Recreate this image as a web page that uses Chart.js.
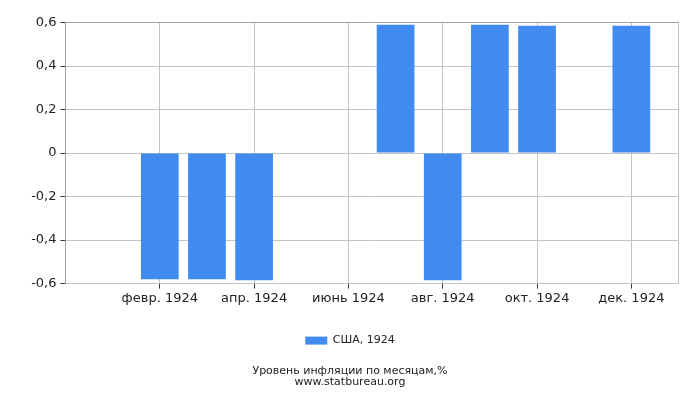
<!DOCTYPE html>
<html>
<head>
<meta charset="utf-8">
<script src="https://cdn.jsdelivr.net/npm/chart.js@4"></script>
<style>
html,body{margin:0;padding:0;background:#fff;}
#wrap{width:700px;height:400px;}
</style>
</head>
<body>
<div id="wrap"><canvas id="c" width="700" height="400"></canvas></div>
<script>
const months = ['янв. 1924','февр. 1924','март 1924','апр. 1924','май 1924','июнь 1924','июль 1924','авг. 1924','сент. 1924','окт. 1924','нояб. 1924','дек. 1924'];
const inflation = [0, -0.58, -0.58, -0.585, 0, 0, 0.59, -0.585, 0.59, 0.585, 0, 0.585];
const seriesName = 'США, 1924';
const labeledMonths = [1, 3, 5, 7, 9, 11];
const yTicks = [-0.6, -0.4, -0.2, 0, 0.2, 0.4, 0.6];
const titleLines = ['Уровень инфляции по месяцам,%', 'www.statbureau.org'];

const points = inflation.map((v, i) => ({x: i, y: v}));
const FONT = 'DejaVu Sans';

new Chart(document.getElementById('c'), {
  type: 'bar',
  data: {
    datasets: [{
      label: seriesName,
      data: points,
      backgroundColor: '#418bf0',
      borderWidth: 0,
      borderSkipped: false,
      barPercentage: 1,
      categoryPercentage: 0.8
    }]
  },
  options: {
    responsive: false,
    animation: false,
    devicePixelRatio: 1,
    layout: {padding: {top: 22.5, right: 0, left: 0, bottom: 0}},
    plugins: {
      tooltip: {enabled: false},
      legend: {
        position: 'bottom',
        labels: {
          font: {family: FONT, size: 11},
          color: '#222',
          boxWidth: 22,
          boxHeight: 8,
          padding: 10
        }
      },
      title: {
        display: true,
        position: 'bottom',
        text: titleLines,
        color: '#222',
        font: {family: FONT, size: 11, weight: 'normal', lineHeight: 0.95},
        padding: {top: 10, bottom: 13}
      }
    },
    scales: {
      x: {
        type: 'linear',
        min: -1,
        max: 12,
        offset: false,
        afterBuildTicks: (s) => {
          s.ticks = labeledMonths.concat([12]).map(v => ({value: v}));
        },
        afterFit: (s) => { s.height = 41.5; },
        ticks: {
          autoSkip: false,
          maxRotation: 0,
          font: {family: FONT, size: 13},
          color: '#222',
          padding: 2,
          callback: (v) => (months[v] !== undefined && labeledMonths.includes(v)) ? months[v] : ''
        },
        grid: {
          offset: false,
          color: '#c4c4c4',
          lineWidth: 1,
          tickLength: 5,
          tickColor: (ctx) => (ctx.tick && ctx.tick.value === 12) ? 'rgba(0,0,0,0)' : '#333'
        },
        border: {color: '#c4c4c4'}
      },
      y: {
        min: -0.6,
        max: 0.6,
        afterBuildTicks: (s) => { s.ticks = yTicks.map(v => ({value: v})); },
        afterFit: (s) => { s.width = 65.5; },
        ticks: {
          font: {family: FONT, size: 13},
          color: '#222',
          padding: 4,
          callback: (v) => {
            const r = Math.round(v * 10) / 10;
            return r === 0 ? '0' : r.toFixed(1).replace('.', ',');
          }
        },
        grid: {
          color: (ctx) => (ctx.tick && Math.abs(ctx.tick.value - 0.6) < 1e-9) ? '#a0a0a0' : '#c4c4c4',
          lineWidth: 1,
          tickLength: 5,
          tickColor: '#333'
        },
        border: {color: '#a0a0a0'}
      },
      yRightSpace: {
        type: 'linear',
        position: 'right',
        min: -0.6,
        max: 0.6,
        grid: {display: false, drawTicks: false},
        border: {display: false},
        ticks: {display: false},
        afterFit: (s) => { s.width = 21.5; }
      }
    }
  }
});
</script>
</body>
</html>
